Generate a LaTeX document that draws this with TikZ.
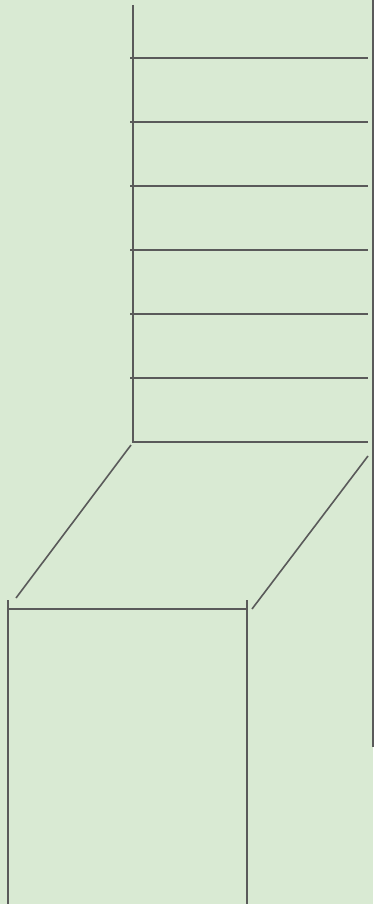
\documentclass[tikz,border=0pt]{standalone}
\usepackage{tikz}
\definecolor{bg_green}{RGB}{217,234,211}
\definecolor{line_gray}{RGB}{90,90,90}

\begin{document}
\begin{tikzpicture}[x=1pt,y=-1pt]
    \tikzstyle{rail}=[draw=line_gray, line width=1.6pt]
    \fill[bg_green] (0,0) rectangle (373,904);
    \useasboundingbox (0,0) rectangle (373,904);

    % upper ladder
    \coordinate (top) at (133,5);
    \coordinate (corner) at (133,442);
    \coordinate (cornerR) at (368,442);
    \draw[rail] (top) -- (corner) -- (cornerR);
    \foreach \y in {58,122,186,250,314,378}
        \draw[rail] (130,\y) -- (368,\y);
    \draw[rail] (373,0) -- (373,747);

    % slanted part
    \coordinate (slA) at (131,445);
    \coordinate (slB) at (16,598);
    \coordinate (slC) at (368,456);
    \coordinate (slD) at (252,609);
    \draw[rail] (slA) -- (slB);
    \draw[rail] (slC) -- (slD);

    % lower frame
    \coordinate (lowL) at (8,600);
    \coordinate (lowR) at (247,600);
    \draw[rail] (lowL) -- (8,904);
    \draw[rail] (lowR) -- (247,904);
    \draw[rail] (8,609) -- (247,609);
\end{tikzpicture}
\end{document}
